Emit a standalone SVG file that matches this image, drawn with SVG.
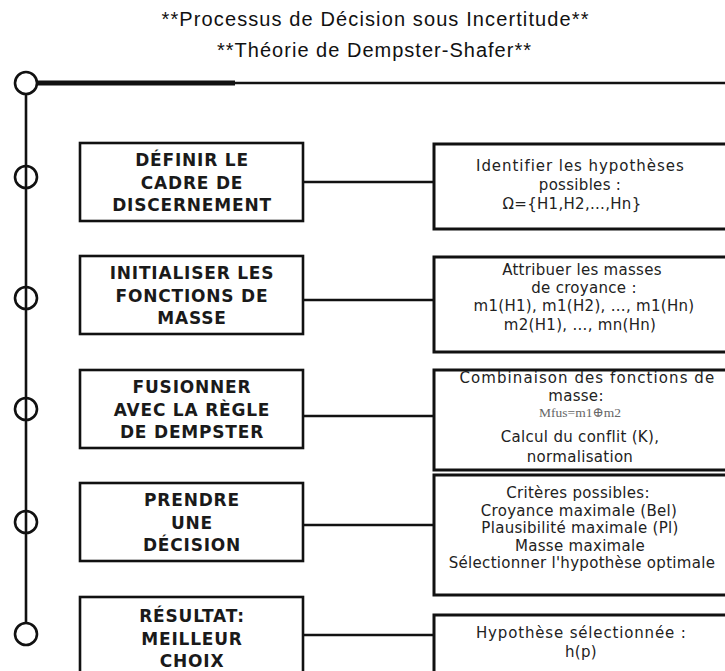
<svg xmlns="http://www.w3.org/2000/svg" width="725" height="671" viewBox="0 0 725 671">
  <style>
    .title{font-family:"Liberation Sans",Arial,sans-serif;font-size:20px;fill:#111;text-anchor:middle}
    .step rect{fill:#fff;stroke:#111;stroke-width:2.6}
    .step text{font-family:"DejaVu Sans",Verdana,sans-serif;font-weight:bold;font-size:17px;letter-spacing:0.8px;text-anchor:middle;fill:#1a1a1a}
    .detail rect{fill:#fff;stroke:#111;stroke-width:3}
    .detail text{font-family:"DejaVu Sans",Verdana,sans-serif;font-size:15px;letter-spacing:0.3px;text-anchor:middle;fill:#222}
    .detail text.formula{font-family:"Liberation Serif","DejaVu Serif",serif;font-size:13.5px;letter-spacing:0;fill:#666}
    .conn{stroke:#111;stroke-width:2.6;fill:none}
    .spine-head{stroke:#111;stroke-width:5;fill:none}
    .dot{stroke:#111;stroke-width:2.6}
  </style>

  <!-- heading -->
  <g id="heading">
    <text class="title" x="375" y="26" textLength="427" lengthAdjust="spacing">**Processus de Décision sous Incertitude**</text>
    <text class="title" x="374" y="57" textLength="314" lengthAdjust="spacing">**Théorie de Dempster-Shafer**</text>
  </g>

  <!-- timeline spine, connectors and markers -->
  <g id="connectors">
    <line class="spine-head" x1="37" y1="83" x2="235" y2="83"/>
    <line class="conn" x1="235" y1="83" x2="725" y2="83"/>
    <line class="conn" x1="26" y1="94" x2="26" y2="623"/>
    <line class="conn" x1="303" y1="182" x2="434" y2="182"/>
    <line class="conn" x1="303" y1="300" x2="434" y2="300"/>
    <line class="conn" x1="303" y1="416" x2="434" y2="416"/>
    <line class="conn" x1="303" y1="525" x2="434" y2="525"/>
    <line class="conn" x1="303" y1="635" x2="434" y2="635"/>
    <circle class="dot" cx="26" cy="83" r="11" fill="#fff"/>
    <circle class="dot" cx="26" cy="177" r="11" fill="none"/>
    <circle class="dot" cx="26" cy="298" r="11" fill="none"/>
    <circle class="dot" cx="26" cy="409" r="11" fill="none"/>
    <circle class="dot" cx="26" cy="522" r="11" fill="none"/>
    <circle class="dot" cx="26" cy="634" r="11" fill="#fff"/>
  </g>

  <!-- steps -->
  <g id="step-cadre" class="step">
    <rect x="80" y="143" width="223" height="78"/>
    <text x="192" y="166">DÉFINIR LE</text>
    <text x="192" y="189">CADRE DE</text>
    <text x="192" y="211">DISCERNEMENT</text>
  </g>
  <g id="step-masse" class="step">
    <rect x="80" y="256" width="223" height="78"/>
    <text x="192" y="279">INITIALISER LES</text>
    <text x="192" y="302">FONCTIONS DE</text>
    <text x="192" y="324">MASSE</text>
  </g>
  <g id="step-fusion" class="step">
    <rect x="80" y="370" width="223" height="78"/>
    <text x="192" y="393">FUSIONNER</text>
    <text x="192" y="416">AVEC LA RÈGLE</text>
    <text x="192" y="438">DE DEMPSTER</text>
  </g>
  <g id="step-decision" class="step">
    <rect x="80" y="483" width="223" height="78"/>
    <text x="192" y="506">PRENDRE</text>
    <text x="192" y="529">UNE</text>
    <text x="192" y="551">DÉCISION</text>
  </g>
  <g id="step-resultat" class="step">
    <rect x="80" y="597" width="223" height="90"/>
    <text x="192" y="622">RÉSULTAT:</text>
    <text x="192" y="645">MEILLEUR</text>
    <text x="192" y="667">CHOIX</text>
  </g>

  <!-- details -->
  <g id="detail-cadre" class="detail">
    <rect x="434" y="144" width="300" height="85"/>
    <text x="580" y="171" textLength="208" lengthAdjust="spacing">Identifier les hypothèses</text>
    <text x="580" y="190">possibles :</text>
    <text x="572" y="209">Ω={H1,H2,...,Hn}</text>
  </g>
  <g id="detail-masse" class="detail">
    <rect x="434" y="257" width="300" height="95"/>
    <text x="582" y="275">Attribuer les masses</text>
    <text x="584" y="293">de croyance :</text>
    <text x="584" y="311">m1(H1), m1(H2), ..., m1(Hn)</text>
    <text x="580" y="330">m2(H1), ..., mn(Hn)</text>
  </g>
  <g id="detail-fusion" class="detail">
    <rect x="434" y="370" width="300" height="100"/>
    <text x="587" y="383" textLength="255" lengthAdjust="spacing">Combinaison des fonctions de</text>
    <text x="576" y="401">masse:</text>
    <text class="formula" x="580" y="417">Mfus=m1⊕m2</text>
    <text x="580" y="442">Calcul du conflit (K),</text>
    <text x="580" y="462">normalisation</text>
  </g>
  <g id="detail-decision" class="detail">
    <rect x="434" y="475" width="300" height="120"/>
    <text x="578" y="498">Critères possibles:</text>
    <text x="579" y="516">Croyance maximale (Bel)</text>
    <text x="580" y="533">Plausibilité maximale (Pl)</text>
    <text x="580" y="551">Masse maximale</text>
    <text x="582" y="568">Sélectionner l'hypothèse optimale</text>
  </g>
  <g id="detail-resultat" class="detail">
    <rect x="434" y="615" width="300" height="80"/>
    <text x="581" y="638" textLength="210" lengthAdjust="spacing">Hypothèse sélectionnée :</text>
    <text x="581" y="657">h(p)</text>
  </g>
</svg>
